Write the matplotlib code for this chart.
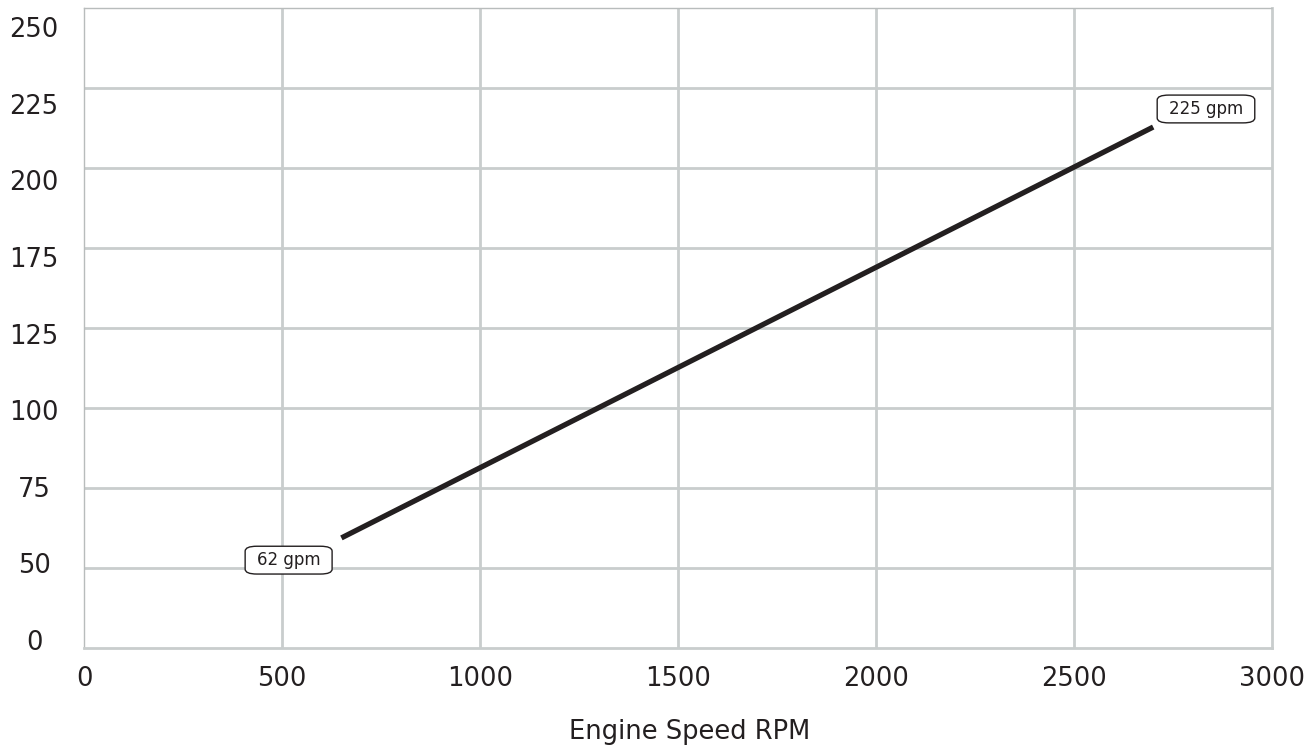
import matplotlib
matplotlib.use("Agg")
import matplotlib.pyplot as plt
import numpy as np

# ---- data ----
rpm = [650, 2700]                  # engine speed at line ends
flow_pos = [43, 203.5]             # plotted line heights (axis units, 0-250 scale)
flow_labels = ["62 gpm", "225 gpm"]
y_tick_labels = ["0", "50", "75", "100", "125", "175", "200", "225", "250"]
x_ticks = [0, 500, 1000, 1500, 2000, 2500, 3000]
x_label = "Engine Speed RPM"

plt.rcParams['font.family'] = ['DejaVu Sans']
fig = plt.figure(figsize=(13.15, 7.47), dpi=100)
ax = fig.add_axes([84/1315, 1 - 648/747, (1272-84)/1315, (648-8)/747])

ax.set_xlim(0, 3000)
ax.set_ylim(0, 250)

grid_c = "#c9cdcd"
ax.set_yticks(np.linspace(3.1, 242.6, 9))
ax.set_yticklabels(y_tick_labels, ha="center")
ax.set_xticks(x_ticks)
ax.set_xticklabels([str(v) for v in x_ticks])

ax.grid(False)
for yv in np.linspace(0, 250, 9)[1:-1]:
    ax.axhline(yv, color=grid_c, lw=2, zorder=1)
for xv in x_ticks[1:-1]:
    ax.axvline(xv, color=grid_c, lw=2, zorder=1)

ax.tick_params(axis="y", which="both", length=0, pad=36, labelsize=18.5, colors="#231f20")
ax.tick_params(axis="x", which="both", length=0, pad=13, labelsize=18.5, colors="#231f20")

for s in ["left", "top"]:
    ax.spines[s].set_color("#b8bcbc")
    ax.spines[s].set_linestyle((0, (1, 1)))
    ax.spines[s].set_linewidth(1)
for s in ["right", "bottom"]:
    ax.spines[s].set_color(grid_c)
    ax.spines[s].set_linewidth(2)

ax.plot(rpm, flow_pos, color="#231f20", lw=3.8, solid_capstyle="butt", zorder=3)

offsets = [(-38, -16), (38, 13)]
for xv, yv, lab, off in zip(rpm, flow_pos, flow_labels, offsets):
    ax.annotate(lab, (xv, yv), xytext=off, textcoords="offset points",
                ha="center", va="center", fontsize=12, color="#231f20",
                bbox=dict(boxstyle="round,pad=0.7,rounding_size=0.7",
                          mutation_aspect=0.42,
                          fc="white", ec="#231f20", lw=1), zorder=4)

fig.text(690/1315, 1 - 732/747, x_label, ha="center", va="center",
         fontsize=18.5, color="#231f20")

fig.savefig("out.png", dpi=100)
